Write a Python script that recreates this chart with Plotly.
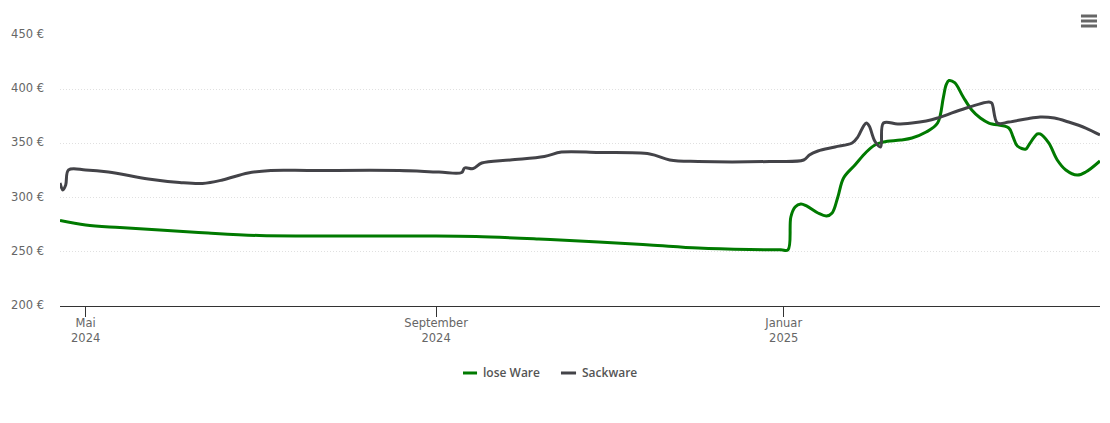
import plotly.graph_objects as go

# values
lose_dates = ["2024-04-22", "2024-05-01", "2024-05-13", "2024-05-27", "2024-06-13", "2024-07-01", "2024-07-19",
              "2024-08-30", "2024-09-15", "2024-10-07", "2024-10-28", "2024-11-15", "2024-12-02", "2024-12-20",
              "2024-12-31", "2025-01-02 12:00", "2025-01-03 12:00", "2025-01-05", "2025-01-07", "2025-01-09", "2025-01-13", "2025-01-16",
              "2025-01-18", "2025-01-20", "2025-01-22", "2025-01-26", "2025-01-30", "2025-02-02", "2025-02-05",
              "2025-02-11", "2025-02-15", "2025-02-20", "2025-02-24", "2025-02-26", "2025-02-27", "2025-02-28",
              "2025-03-02", "2025-03-05", "2025-03-08", "2025-03-11", "2025-03-14", "2025-03-21", "2025-03-22 12:00",
              "2025-03-24", "2025-03-27", "2025-03-28", "2025-03-31", "2025-04-01", "2025-04-04", "2025-04-07",
              "2025-04-10", "2025-04-14", "2025-04-17", "2025-04-22"]
lose_prices = [278.9, 274.7, 272.4, 270.1, 267.3, 265.0, 264.6,
               264.6, 264.1, 261.8, 259.0, 256.3, 253.5, 252.1,
               251.8, 251.8, 282.1, 291.3, 294.1, 292.3, 285.8, 283.0,
               285.8, 300.6, 318.1, 330.1, 342.1, 348.5, 351.3,
               353.1, 355.0, 360.5, 368.8, 392.0, 404.0, 408.0,
               406.0, 392.8, 380.8, 373.4, 368.8, 364.2, 355.9,
               347.6, 344.8, 348.5, 358.7, 358.7, 350.4, 334.7,
               325.5, 320.8, 323.6, 333.8]

sack_dates = ["2024-04-22", "2024-04-23", "2024-04-24", "2024-04-25", "2024-05-01", "2024-05-09", "2024-05-23",
              "2024-06-03", "2024-06-11", "2024-06-18", "2024-06-27", "2024-07-05", "2024-07-19", "2024-08-19",
              "2024-09-02", "2024-09-10", "2024-09-11", "2024-09-14", "2024-09-17", "2024-09-27", "2024-10-09",
              "2024-10-15", "2024-10-28", "2024-11-15", "2024-11-22", "2024-12-02", "2024-12-27", "2025-01-08",
              "2025-01-10", "2025-01-13", "2025-01-19", "2025-01-25", "2025-01-27", "2025-01-29", "2025-01-30",
              "2025-01-31", "2025-02-02", "2025-02-04", "2025-02-05", "2025-02-10", "2025-02-15", "2025-02-20",
              "2025-02-24", "2025-03-04", "2025-03-14", "2025-03-15", "2025-03-17", "2025-03-21", "2025-03-27",
              "2025-04-01", "2025-04-06", "2025-04-11", "2025-04-17", "2025-04-22"]
sack_prices = [313.5, 307.0, 311.6, 325.5, 325.5, 323.6, 317.2,
               313.9, 313.0, 316.2, 322.7, 325.0, 325.0, 325.0,
               323.6, 323.2, 327.3, 326.8, 331.9, 334.7, 337.9,
               342.0, 341.6, 340.2, 334.7, 333.3, 333.3, 334.7,
               339.3, 343.0, 346.7, 350.4, 355.9, 366.0, 368.8,
               366.0, 352.0, 346.7, 368.8, 367.9, 368.8, 370.7,
               373.4, 380.8, 388.2, 387.3, 368.8, 369.7, 372.5,
               374.4, 373.4, 369.7, 364.2, 357.8]

x_ticks = ["2024-05-01", "2024-09-01", "2025-01-01"]
x_labels = ["Mai<br>2024", "September<br>2024", "Januar<br>2025"]
y_ticks = [200, 250, 300, 350, 400, 450]
y_labels = ["200 €", "250 €", "300 €", "350 €", "400 €", "450 €"]

LOSE_COLOR = "#007a00"
SACK_COLOR = "#434348"

fig = go.Figure()
fig.add_trace(go.Scatter(x=lose_dates, y=lose_prices, mode="lines", name="lose Ware",
                         line=dict(color=LOSE_COLOR, width=3, shape="spline", smoothing=1.0)))
fig.add_trace(go.Scatter(x=sack_dates, y=sack_prices, mode="lines", name="Sackware",
                         line=dict(color=SACK_COLOR, width=3, shape="spline", smoothing=1.0)))

fig.update_layout(
    width=1110, height=423,
    margin=dict(l=60, r=10, t=35, b=117),
    paper_bgcolor="white", plot_bgcolor="white",
    font=dict(family="DejaVu Sans", size=11.5, color="#666666"),
    showlegend=False,
)

# hamburger menu top right
for y in [1.0701, 1.0517, 1.0332]:
    fig.add_shape(type="line", xref="paper", yref="paper", x0=0.9817, x1=0.9971, y0=y, y1=y,
                  line=dict(color="#666666", width=3))

# legend by hand, the short line samples are not possible with the plotly one
for name, color, x0, x1, xtext in [("lose Ware", LOSE_COLOR, 0.3875, 0.4010, 0.4058),
                                   ("Sackware", SACK_COLOR, 0.4817, 0.4962, 0.5008)]:
    fig.add_shape(type="line", xref="paper", yref="paper", x0=x0, x1=x1, y0=-0.2472, y1=-0.2472,
                  line=dict(color=color, width=3))
    fig.add_annotation(xref="paper", yref="paper", x=xtext, y=-0.2472, xanchor="left", yanchor="middle",
                       text=name, showarrow=False, borderpad=0,
                       font=dict(family="Open Sans", size=12, color="#555555", weight=600))

fig.update_xaxes(range=["2024-04-22", "2025-04-22"], tickvals=x_ticks, ticktext=x_labels,
                 showgrid=False, showline=True, linecolor="#333333", linewidth=1,
                 ticks="outside", ticklen=10, tickcolor="#333333", ticklabelstandoff=-4)
fig.update_yaxes(range=[200, 450], tickvals=y_ticks, ticktext=y_labels,
                 showgrid=True, gridcolor="#e0e0e0", griddash="1px,2px", gridwidth=1,
                 zeroline=False, showline=False, ticks="", ticklabelstandoff=15, ticklabelshift=-1)

fig.write_html("out.html", config=dict(displayModeBar=False),
               post_script="document.body.style.margin='0';")
